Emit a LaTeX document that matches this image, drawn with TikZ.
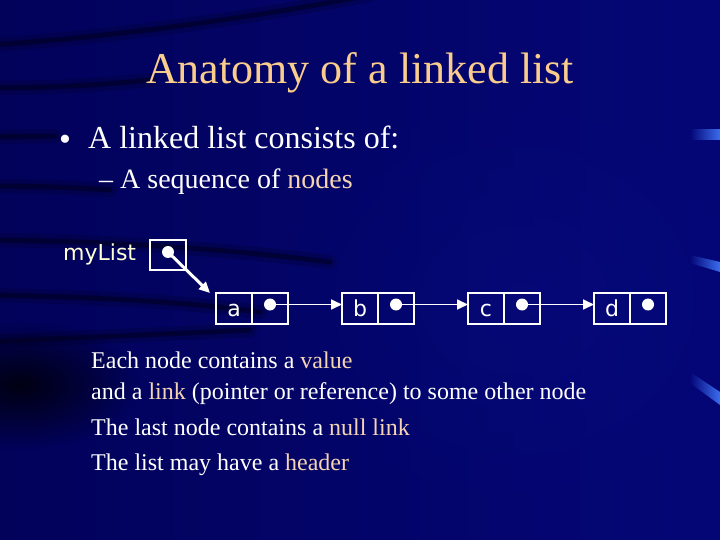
\documentclass[tikz,border=0pt]{standalone}
\usepackage{fontspec}
\setmainfont{Liberation Serif}
\newfontfamily\vsans{DejaVu Sans}
\usetikzlibrary{arrows.meta,calc,fadings}
\tikzfading[name=fadeleft, left color=transparent!100, right color=transparent!0]
\tikzfading[name=softblob, inner color=transparent!0, outer color=transparent!100]
\definecolor{bgbase}{RGB}{3,3,112}
\definecolor{bgdark}{RGB}{0,0,30}
\definecolor{bgright}{RGB}{10,18,140}
\definecolor{titlecol}{RGB}{250,205,140}
\definecolor{hlcol}{RGB}{245,212,178}
\definecolor{streak}{RGB}{60,110,240}
\definecolor{listcol}{RGB}{255,255,215}
\newcommand{\hlw}[1]{\textcolor{hlcol}{#1}}
\begin{document}
\begin{tikzpicture}[x=1pt,y=-1pt,
  cell/.style={draw=white, line width=1.8pt, minimum width=36pt, minimum height=31pt,
    inner sep=0pt, outer sep=0pt, anchor=north west, text=white,
    font=\vsans\fontsize{22}{22}\selectfont, text height=17pt, text depth=2pt},
  ptr/.style={circle, fill=white, minimum size=12pt, inner sep=0pt},
  link/.style={draw=white, line width=1.7pt, -{Triangle[length=11pt,width=10pt]}},
  headlink/.style={draw=white, line width=3pt, -{Triangle[length=11pt,width=10pt]}},
  titletext/.style={text=titlecol, font=\fontsize{44}{48}\selectfont, anchor=base, inner sep=0pt},
  body/.style={text=white, anchor=base west, inner sep=0pt},
  swoosh/.style={draw=bgdark, line width=5pt, opacity=0.55, line cap=round,
    preaction={draw=bgdark, line width=14pt, opacity=0.22, line cap=round}}
]
\useasboundingbox (0,0) rectangle (720,540);
% ---------- background ----------
\begin{scope}
\clip (0,0) rectangle (720,540);
\fill[bgbase] (0,0) rectangle (720,540);
\shade[left color=bgdark, right color=bgright, opacity=0.25] (0,0) rectangle (720,540);
\fill[bgright, path fading=softblob, opacity=0.25] (520,300) ellipse (260 and 220);
\fill[black, path fading=softblob, opacity=0.8] (20,385) ellipse (120 and 65);
\path[swoosh] (-10,45) .. controls (100,38) and (240,20) .. (370,-5);
\path[swoosh] (-10,88) .. controls (50,88) and (100,85) .. (150,80);
\path[swoosh] (-10,137) -- (55,136);
\path[swoosh] (-10,186) .. controls (40,186) and (80,188) .. (110,190);
\path[swoosh] (-10,240) .. controls (100,241) and (220,248) .. (330,262);
\path[swoosh] (-10,295) .. controls (80,297) and (170,300) .. (260,312);
\path[swoosh] (-10,342) .. controls (60,338) and (150,335) .. (250,330);
\fill[streak, path fading=fadeleft] (690,129) rectangle (720,140);
\fill[streak, path fading=fadeleft] (690,255) -- (720,262) -- (720,272) -- (690,263) -- cycle;
\fill[streak, path fading=fadeleft] (690,372) -- (720,392) -- (720,405) -- (690,383) -- cycle;
\end{scope}
% ---------- texts ----------
\node[titletext] (title) at (360,84) {Anatomy of a linked list};
\node[body, font=\fontsize{34}{34}\selectfont] (bul) at (59,151) {\textbullet};
\node[body, font=\fontsize{32}{32}\selectfont] (l1) at (88,149) {A linked list consists of:};
\node[body, font=\fontsize{28}{28}\selectfont] (l2) at (99,189) {– A sequence of \hlw{nodes}};
% ---------- header ----------
\node[body, text=listcol, font=\vsans\fontsize{22}{22}\selectfont] (hname) at (63,260) {myList};
\node[cell, minimum height=30pt] (hp) at (150,240) {};
\node[ptr] (hd) at ($(hp.center)+(0,-3)$) {};
% ---------- list nodes ----------
\node[cell] (av) at (216,293) {a};
\node[cell] (ap) at (av.north east) {};
\node[ptr] (ad) at ($(ap.center)+(0,-4)$) {};
\node[cell] (bv) at (342,293) {b};
\node[cell] (bp) at (bv.north east) {};
\node[ptr] (bd) at ($(bp.center)+(0,-4)$) {};
\node[cell] (cv) at (468,293) {c};
\node[cell] (cp) at (cv.north east) {};
\node[ptr] (cd) at ($(cp.center)+(0,-4)$) {};
\node[cell] (dv) at (594,293) {d};
\node[cell] (dp) at (dv.north east) {};
\node[ptr] (dd) at ($(dp.center)+(0,-4)$) {};
\coordinate (atip) at ($(av.north west)+(-6,0)$);
\draw[headlink] (hd.center) -- (atip);
\draw[link] (ad.center) -- (ad.center -| bv.west);
\draw[link] (bd.center) -- (bd.center -| cv.west);
\draw[link] (cd.center) -- (cd.center -| dv.west);
% ---------- notes ----------
\begin{scope}[every node/.style={body, font=\fontsize{24}{24}\selectfont}]
\node (n1) at (91,368) {Each node contains a \hlw{value}};
\node (n2) at (91,399) {and a \hlw{link} (pointer or reference) to some other node};
\node (n3) at (91,435) {The last node contains a \hlw{null link}};
\node (n4) at (91,470) {The list may have a \hlw{header}};
\end{scope}
\end{tikzpicture}
\end{document}
